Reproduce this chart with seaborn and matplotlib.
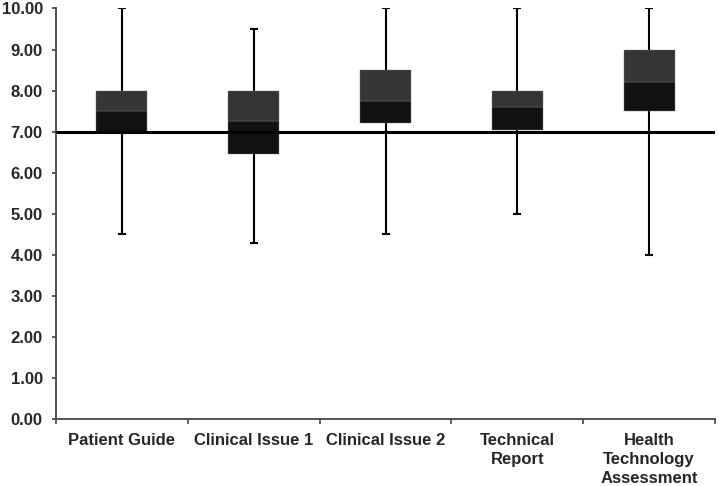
import numpy as np
import pandas as pd
import matplotlib
matplotlib.use('Agg')
import matplotlib.pyplot as plt
import seaborn as sns

# box plot values
groups = ['Patient Guide', 'Clinical Issue 1', 'Clinical Issue 2', 'Technical\nReport',
          'Health\nTechnology\nAssessment']
minimum = [4.5, 4.3, 4.5, 5.0, 4.0]
q1 = [7.0, 6.45, 7.2, 7.05, 7.5]
median = [7.5, 7.25, 7.75, 7.6, 8.2]
q3 = [8.0, 8.0, 8.5, 8.0, 9.0]
maximum = [10.0, 9.5, 10.0, 10.0, 10.0]
threshold = 7.0

sns.set_style('white')
plt.rcParams['font.family'] = ['Liberation Sans', 'DejaVu Sans']
plt.rcParams['font.weight'] = 'bold'

df = pd.DataFrame({'group': groups, 'q1': q1, 'med': median, 'q3': q3,
                   'lo': minimum, 'hi': maximum})
df['lower'] = df['med'] - df['q1']
df['upper'] = df['q3'] - df['med']

fig = plt.figure(figsize=(7.19, 4.86), dpi=100)
ax = fig.add_axes([0.0779, 0.137, 0.9166, 0.8457])

# whiskers
mid = (df['lo'] + df['hi']) / 2
half = (df['hi'] - df['lo']) / 2
ax.errorbar(np.arange(len(df)), mid, yerr=half, fmt='none', ecolor='black',
            elinewidth=1.5, capsize=3, capthick=1.5, zorder=1)

# two-tone boxes: q1->median, median->q3
sns.barplot(data=df, x='group', y='lower', bottom=df['q1'].values, color='#111111',
            width=0.387, edgecolor='#777777', linewidth=0.3, saturation=1, ax=ax, zorder=2)
sns.barplot(data=df, x='group', y='upper', bottom=df['med'].values, color='#353535',
            width=0.387, edgecolor='#777777', linewidth=0.3, saturation=1, ax=ax, zorder=2)

ax.axhline(threshold, color='black', linewidth=2.2, zorder=3)

ax.set_xlim(-0.5, len(df) - 0.5)
ax.set_ylim(0, 10)
ax.set_yticks(np.arange(0, 10.01, 1))
ax.set_yticklabels([f'{v:.2f}' for v in np.arange(0, 10.01, 1)], fontsize=12, fontweight='bold')
ax.set_xticks(range(len(df)))
ax.set_xticklabels(groups, fontsize=12, fontweight='bold', linespacing=1.32)
ax.set_xticks(np.arange(-0.5, len(df)), minor=True)
ax.tick_params(axis='x', which='major', bottom=True, length=0, pad=10)
ax.tick_params(axis='x', which='minor', bottom=True, length=3.5, width=1.2,
               color='#444444', direction='out')
ax.tick_params(axis='y', left=True, length=3, width=1.2, color='#444444',
               direction='out', pad=6.5)
ax.set_xlabel('')
ax.set_ylabel('')

sns.despine(ax=ax)
for s in ['left', 'bottom']:
    ax.spines[s].set_color('#444444')
    ax.spines[s].set_linewidth(1.3)

fig.savefig('out.png', dpi=100)
